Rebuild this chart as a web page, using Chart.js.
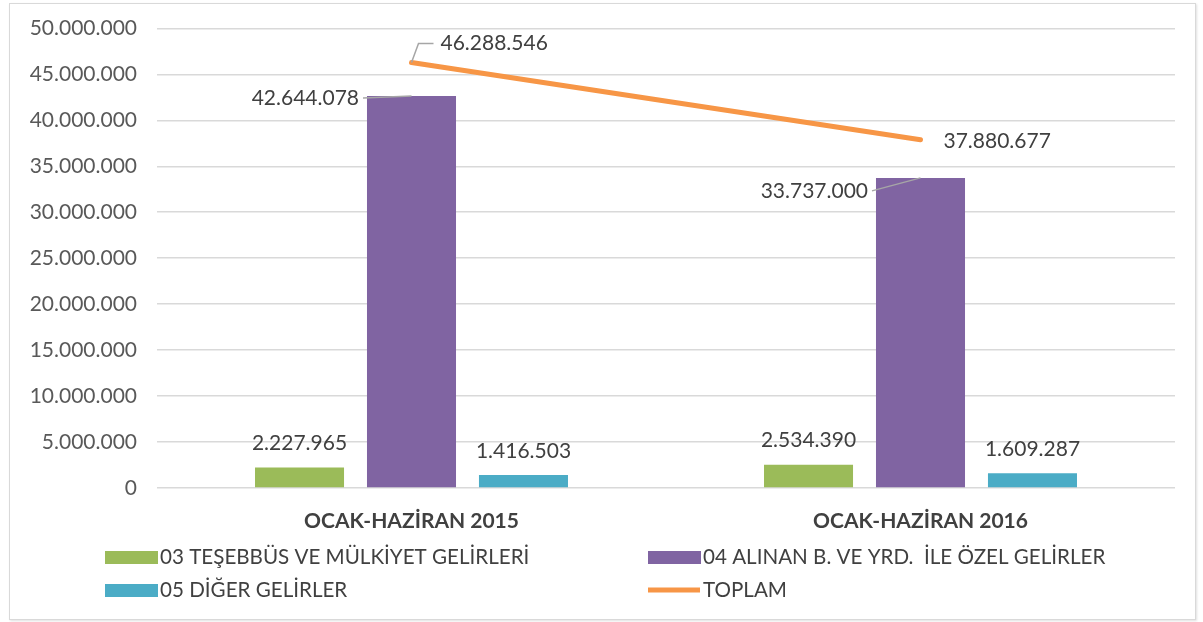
<!DOCTYPE html>
<html>
<head>
<meta charset="utf-8">
<script src="https://cdn.jsdelivr.net/npm/chart.js@4"></script>
<style>
  html, body { margin: 0; padding: 0; background: #fff; }
  #wrap { position: relative; width: 1203px; height: 622px; }
  #frame { position: absolute; left: 9px; top: 3px; width: 1185px; height: 615px; border: 1px solid #d9d9d9; box-shadow: 1px 1px 2px rgba(0,0,0,0.12); pointer-events: none; }
</style>
</head>
<body>
<div id="wrap">
  <canvas id="chart" width="1203" height="622"></canvas>
  <div id="frame"></div>
</div>
<script>
// data
const categories = ["OCAK-HAZİRAN 2015", "OCAK-HAZİRAN 2016"];
const seriesNames = ["03 TEŞEBBÜS VE MÜLKİYET GELİRLERİ", "04 ALINAN B. VE YRD.  İLE ÖZEL GELİRLER", "05 DİĞER GELİRLER", "TOPLAM"];
const tesebbus = [2227965, 2534390];
const alinan = [42644078, 33737000];
const diger = [1416503, 1609287];
const toplam = [46288546, 37880677];
const yMax = 50000000;
const yStep = 5000000;

const colors = ["#9bbb59", "#8064a2", "#4bacc6", "#f79646"];
const FONT = "Lato, 'Open Sans', sans-serif";
const TEXT = "#404040";

const fmt = (v) => String(Math.round(v)).replace(/\B(?=(\d{3})+(?!\d))/g, ".");

// value labels, placed like the excel ones
const labelPlugin = {
    id: "valueLabels",
    afterDatasetsDraw(chart) {
        const ctx = chart.ctx;
        ctx.save();
        ctx.font = "21px " + FONT;
        ctx.fillStyle = TEXT;
        ctx.textBaseline = "middle";
        ctx.strokeStyle = "#a6a6a6";
        ctx.lineWidth = 1.5;

        // small bars: centered above
        [0, 2].forEach(di => {
            chart.getDatasetMeta(di).data.forEach((bar, i) => {
                ctx.textAlign = "center";
                ctx.fillText(fmt(chart.data.datasets[di].data[i]), bar.x, bar.y - 24);
            });
        });

        // tall bars: to the left with a leader line
        const purpleOff = [2, 13];
        chart.getDatasetMeta(1).data.forEach((bar, i) => {
            const ly = bar.y + purpleOff[i];
            const lx = bar.x - bar.width / 2 - 8;
            ctx.textAlign = "right";
            ctx.fillText(fmt(alinan[i]), lx, ly);
            ctx.beginPath();
            ctx.moveTo(lx + 4, ly);
            ctx.lineTo(bar.x, bar.y);
            ctx.stroke();
        });

        // total line labels
        const pts = chart.getDatasetMeta(3).data;
        ctx.textAlign = "left";
        let p = pts[0];
        ctx.fillText(fmt(toplam[0]), p.x + 29, p.y - 19);
        ctx.beginPath();
        ctx.moveTo(p.x, p.y);
        ctx.lineTo(p.x + 7, p.y - 19);
        ctx.lineTo(p.x + 22, p.y - 19);
        ctx.stroke();
        p = pts[1];
        ctx.fillText(fmt(toplam[1]), p.x + 23, p.y + 1);
        ctx.restore();
    }
};

// two column legend under the axis
const legendPlugin = {
    id: "gridLegend",
    afterDraw(chart) {
        const ctx = chart.ctx;
        const cols = [105, 648];
        const rows = [557, 590];
        ctx.save();
        ctx.font = "20.6px " + FONT;
        ctx.fillStyle = TEXT;
        ctx.textBaseline = "middle";
        ctx.textAlign = "left";
        chart.data.datasets.forEach((ds, i) => {
            const x = cols[i % 2], y = rows[Math.floor(i / 2)];
            if (ds.type === "line") {
                ctx.strokeStyle = ds.borderColor;
                ctx.lineWidth = 5;
                ctx.beginPath();
                ctx.moveTo(x, y);
                ctx.lineTo(x + 52, y);
                ctx.stroke();
            } else {
                ctx.fillStyle = ds.backgroundColor;
                ctx.fillRect(x, y - 6, 53, 13);
            }
            ctx.fillStyle = TEXT;
            ctx.fillText(ds.label, x + 55, y);
        });
        ctx.restore();
    }
};

new Chart(document.getElementById("chart"), {
    data: {
        labels: categories,
        datasets: [
            { type: "bar", label: seriesNames[0], data: tesebbus, backgroundColor: colors[0], order: 1 },
            { type: "bar", label: seriesNames[1], data: alinan, backgroundColor: colors[1], order: 1 },
            { type: "bar", label: seriesNames[2], data: diger, backgroundColor: colors[2], order: 1 },
            { type: "line", label: seriesNames[3], data: toplam, borderColor: colors[3], backgroundColor: colors[3],
              borderWidth: 5, borderCapStyle: "round", pointRadius: 0, order: 0 }
        ]
    },
    options: {
        responsive: false,
        animation: false,
        categoryPercentage: 0.66,
        barPercentage: 0.795,
        layout: { padding: { top: 28, right: 28, bottom: 0, left: 0 } },
        plugins: { legend: { display: false }, tooltip: { enabled: false } },
        scales: {
            x: {
                grid: { display: false },
                border: { display: false },
                ticks: { color: TEXT, font: { family: FONT, size: 21, weight: "bold" }, padding: 13 },
                afterFit: (s) => { s.height = 134; }
            },
            y: {
                min: 0,
                max: yMax,
                grid: { color: "#d9d9d9", lineWidth: 1.5, drawTicks: false },
                border: { display: false },
                ticks: { stepSize: yStep, color: "#595959", font: { family: FONT, size: 21, lineHeight: 0.8 }, padding: 20, callback: (v) => fmt(v) },
                afterFit: (s) => { s.width = 157; }
            }
        }
    },
    plugins: [labelPlugin, legendPlugin]
});
</script>
</body>
</html>
